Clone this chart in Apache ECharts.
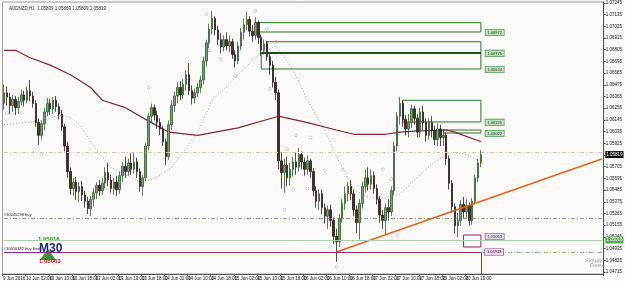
<!DOCTYPE html>
<html><head><meta charset="utf-8">
<script src="https://cdn.jsdelivr.net/npm/echarts@6/dist/echarts.min.js"></script>
<style>html,body{margin:0;padding:0;background:#fcfaf9;}#c{width:625px;height:281px;}</style>
</head><body><div id="c"></div>
<script>
// ---- data ----
const symbolTitle = "AUDNZD,H1  1.05839 1.05869 1.05809 1.05819";
const timeLabels = ["9 Jun 2016","10 Jun 02:00","10 Jun 10:00","10 Jun 18:00","13 Jun 02:00","13 Jun 10:00","13 Jun 18:00","14 Jun 02:00","14 Jun 10:00","14 Jun 18:00","15 Jun 02:00","15 Jun 10:00","15 Jun 18:00","16 Jun 02:00","16 Jun 10:00","16 Jun 18:00","17 Jun 02:00","17 Jun 10:00","17 Jun 18:00","20 Jun 02:00","20 Jun 10:00"];
const barsPerLabel = 8;
const totalSlots = 208;
const priceTicks = [1.07245,1.07135,1.07025,1.06915,1.06805,1.06695,1.06585,1.06475,1.06365,1.06255,1.06145,1.06035,1.05925,1.05815,1.05705,1.05595,1.05485,1.05375,1.05265,1.05155,1.05045,1.04935,1.04825,1.04715];
const priceMin = 1.04696, priceMax = 1.07254;
// [open, close, low, high]
const ohlc = [
[1.0630,1.0640,1.0624,1.0648],[1.0640,1.0636,1.0628,1.0646],[1.0636,1.0628,1.0620,1.0640],[1.0628,1.0634,1.0622,1.0638],
[1.0634,1.0626,1.0619,1.0637],[1.0626,1.0632,1.0620,1.0636],[1.0632,1.0638,1.0628,1.0643],[1.0638,1.0633,1.0627,1.0642],
[1.0633,1.0642,1.0630,1.0646],[1.0642,1.0637,1.0632,1.0652],[1.0637,1.0630,1.0626,1.0641],[1.0630,1.0612,1.0608,1.0633],
[1.0612,1.0600,1.0591,1.0616],[1.0600,1.0611,1.0596,1.0614],[1.0611,1.0622,1.0605,1.0626],[1.0622,1.0630,1.0618,1.0635],
[1.0630,1.0625,1.0619,1.0634],[1.0625,1.0633,1.0620,1.0636],[1.0633,1.0627,1.0622,1.0637],[1.0627,1.0620,1.0615,1.0630],
[1.0620,1.0608,1.0604,1.0624],[1.0608,1.0590,1.0585,1.0611],[1.0590,1.0566,1.0560,1.0594],[1.0566,1.0550,1.0544,1.0570],
[1.0550,1.0556,1.0543,1.0560],[1.0556,1.0547,1.0539,1.0561],[1.0547,1.0552,1.0537,1.0556],[1.0552,1.0544,1.0538,1.0557],
[1.0544,1.0538,1.0532,1.0548],[1.0538,1.0531,1.0526,1.0542],[1.0531,1.0540,1.0524,1.0543],[1.0540,1.0546,1.0533,1.0550],
[1.0546,1.0553,1.0540,1.0556],[1.0553,1.0548,1.0543,1.0558],[1.0548,1.0555,1.0544,1.0560],[1.0555,1.0565,1.0550,1.0570],
[1.0565,1.0558,1.0552,1.0574],[1.0558,1.0550,1.0546,1.0563],[1.0550,1.0556,1.0544,1.0560],[1.0556,1.0549,1.0543,1.0562],
[1.0549,1.0562,1.0545,1.0566],[1.0562,1.0571,1.0556,1.0575],[1.0571,1.0566,1.0560,1.0580],[1.0566,1.0574,1.0562,1.0578],
[1.0574,1.0568,1.0563,1.0583],[1.0568,1.0575,1.0564,1.0584],[1.0575,1.0566,1.0560,1.0579],[1.0566,1.0552,1.0547,1.0569],
[1.0552,1.0560,1.0543,1.0563],[1.0560,1.0590,1.0557,1.0593],[1.0590,1.0618,1.0586,1.0621],[1.0618,1.0626,1.0612,1.0630],
[1.0626,1.0619,1.0614,1.0629],[1.0619,1.0612,1.0606,1.0623],[1.0612,1.0606,1.0600,1.0616],[1.0606,1.0594,1.0590,1.0609],
[1.0594,1.0580,1.0572,1.0597],[1.0580,1.0610,1.0577,1.0614],[1.0610,1.0628,1.0605,1.0633],[1.0628,1.0637,1.0622,1.0641],
[1.0637,1.0645,1.0630,1.0650],[1.0645,1.0638,1.0633,1.0651],[1.0638,1.0648,1.0634,1.0653],[1.0648,1.0657,1.0642,1.0661],
[1.0657,1.0642,1.0638,1.0668],[1.0642,1.0635,1.0629,1.0647],[1.0635,1.0640,1.0630,1.0644],[1.0640,1.0645,1.0636,1.0649],
[1.0645,1.0652,1.0640,1.0656],[1.0652,1.0670,1.0648,1.0674],[1.0670,1.0687,1.0665,1.0690],[1.0687,1.0700,1.0682,1.0705],
[1.0700,1.0710,1.0695,1.0717],[1.0710,1.0699,1.0694,1.0712],[1.0699,1.0690,1.0685,1.0703],[1.0690,1.0683,1.0677,1.0696],
[1.0683,1.0690,1.0679,1.0694],[1.0690,1.0684,1.0680,1.0697],[1.0684,1.0688,1.0678,1.0694],[1.0688,1.0676,1.0672,1.0691],
[1.0676,1.0670,1.0664,1.0680],[1.0670,1.0684,1.0667,1.0688],[1.0684,1.0697,1.0680,1.0701],[1.0697,1.0704,1.0690,1.0710],
[1.0704,1.0709,1.0699,1.0716],[1.0709,1.0698,1.0693,1.0712],[1.0698,1.0694,1.0688,1.0704],[1.0694,1.0706,1.0690,1.0711],
[1.0706,1.0692,1.0686,1.0708],[1.0692,1.0680,1.0675,1.0695],[1.0680,1.0686,1.0676,1.0690],[1.0686,1.0674,1.0670,1.0689],
[1.0674,1.0666,1.0657,1.0678],[1.0666,1.0650,1.0645,1.0670],[1.0650,1.0640,1.0633,1.0655],[1.0640,1.0576,1.0568,1.0643],
[1.0576,1.0565,1.0550,1.0584],[1.0565,1.0572,1.0546,1.0578],[1.0572,1.0560,1.0552,1.0580],[1.0560,1.0568,1.0553,1.0574],
[1.0568,1.0575,1.0561,1.0580],[1.0575,1.0570,1.0563,1.0584],[1.0570,1.0582,1.0566,1.0588],[1.0582,1.0575,1.0568,1.0585],
[1.0575,1.0568,1.0562,1.0579],[1.0568,1.0576,1.0563,1.0581],[1.0576,1.0566,1.0560,1.0578],[1.0566,1.0548,1.0543,1.0569],
[1.0548,1.0538,1.0532,1.0552],[1.0538,1.0545,1.0530,1.0549],[1.0545,1.0532,1.0526,1.0549],[1.0532,1.0524,1.0517,1.0536],
[1.0524,1.0530,1.0512,1.0534],[1.0530,1.0520,1.0514,1.0535],[1.0520,1.0505,1.0498,1.0523],[1.0505,1.0500,1.0481,1.0512],
[1.0500,1.0522,1.0495,1.0526],[1.0522,1.0536,1.0518,1.0540],[1.0536,1.0545,1.0530,1.0552],[1.0545,1.0552,1.0538,1.0556],
[1.0552,1.0545,1.0539,1.0558],[1.0545,1.0530,1.0524,1.0549],[1.0530,1.0518,1.0508,1.0534],[1.0518,1.0536,1.0502,1.0540],
[1.0536,1.0552,1.0531,1.0556],[1.0552,1.0560,1.0546,1.0568],[1.0560,1.0554,1.0548,1.0570],[1.0554,1.0562,1.0549,1.0568],
[1.0562,1.0550,1.0545,1.0566],[1.0550,1.0540,1.0535,1.0554],[1.0540,1.0525,1.0518,1.0543],[1.0525,1.0520,1.0512,1.0530],
[1.0520,1.0532,1.0507,1.0536],[1.0532,1.0528,1.0520,1.0540],[1.0528,1.0548,1.0524,1.0552],[1.0548,1.0590,1.0544,1.0594],
[1.0590,1.0618,1.0585,1.0622],[1.0618,1.0630,1.0610,1.0636],[1.0630,1.0615,1.0608,1.0633],[1.0615,1.0606,1.0600,1.0619],
[1.0606,1.0612,1.0598,1.0620],[1.0612,1.0625,1.0607,1.0629],[1.0625,1.0616,1.0610,1.0628],[1.0616,1.0603,1.0598,1.0620],
[1.0603,1.0622,1.0598,1.0626],[1.0622,1.0612,1.0605,1.0628],[1.0612,1.0600,1.0594,1.0616],[1.0600,1.0612,1.0596,1.0616],
[1.0612,1.0605,1.0598,1.0618],[1.0605,1.0596,1.0591,1.0609],[1.0596,1.0606,1.0590,1.0611],[1.0606,1.0598,1.0590,1.0610],
[1.0598,1.0600,1.0590,1.0606],[1.0600,1.0578,1.0572,1.0603],[1.0578,1.0555,1.0549,1.0581],[1.0555,1.0533,1.0527,1.0558],
[1.0533,1.0515,1.0508,1.0536],[1.0515,1.0520,1.0504,1.0527],[1.0520,1.0535,1.0515,1.0539],[1.0535,1.0528,1.0522,1.0542],
[1.0528,1.0534,1.0522,1.0540],[1.0534,1.0520,1.0515,1.0537],[1.0520,1.0538,1.0516,1.0541],[1.0538,1.0560,1.0535,1.0563],
[1.0560,1.0574,1.0556,1.0578],[1.0574,1.0582,1.0570,1.0586]
];
// moving average (maroon) anchor points [barIndex, price]
const maLine = [[0,1.0680],[4,1.0680],[9,1.0673],[16,1.0666],[23,1.0657],[30,1.0645],[34,1.0633],[42,1.0626],[49,1.0615],[57,1.0603],[67,1.0600],[81,1.0607],[95,1.0618],[105,1.0612],[115,1.0605],[121,1.0601],[132,1.0601],[137,1.0603],[142,1.0604],[153,1.0605],[156,1.0603],[165,1.0594]];
// dotted line anchor points
const dotLine = [[0,1.0610],[14,1.0614],[19,1.0619],[23,1.0617],[26,1.0610],[32,1.0586],[37,1.0570],[48,1.0555],[53,1.0561],[58,1.0570],[67,1.0602],[72,1.0633],[81,1.0657],[88,1.0676],[94,1.0684],[100,1.0662],[105,1.0633],[111,1.0605],[114,1.0586],[121,1.0549],[126,1.0542],[132,1.0541],[137,1.0545],[142,1.0558],[149,1.0575],[155,1.0584],[160,1.0582],[165,1.0575]];
const fractals = [[70,1.0714],[87,1.0717],[91,1.0700],[94,1.0688],[71,1.0680],[75,1.0672],[80,1.0656],[92,1.0644],[1,1.0621],[6,1.0621],[13,1.0582],[50,1.0645],[101,1.0600],[106,1.0598],[98,1.0587],[111,1.0567],[117,1.0568],[131,1.0568],[134,1.0559],[100,1.0549],[105,1.0550],[97,1.0530],[113,1.0495],[115,1.0476],[130,1.0528],[136,1.0507],[152,1.0612]];
const trendLine = [[115,1.04903],[207,1.05780]];
// zones: [startBar, endBar, top, bottom, label]
const greenZones = [[87,165,1.0706,1.06972,"1.06972"],[91,165,1.0688,1.06775,"1.06775"],[89,165,1.06775,1.06624,"1.06624"],[138,165,1.0633,1.06126,"1.06126"],[152,165,1.0605,1.06022,"1.06022"]];
const purpleZone = [159,165,1.05063,1.04950,"1.05063"];
const buyLimitLevel = 1.04903, buyLevel = 1.05223, greenLevel = 1.05016, bidLevel = 1.05843, lastPrice = 1.05819;
const orderBuy = "#30045298 buy", orderLimit = "#30050382 buy limit";
const lastBar = 165;

// ---- chart ----
const cats = Array.from({length: totalSlots}, (_, i) => String(i));
const labelAt = {};
timeLabels.forEach((t, k) => labelAt[k * barsPerLabel] = t);
const chart = echarts.init(document.getElementById('c'), null, {renderer: 'canvas'});
const F = 'Liberation Sans';
const zoneAreas = greenZones.map(z => [
  {coord: [z[0], z[2]], label: {show: true, formatter: z[4], position: ['100%', '100%'], offset: [4, -3], fontSize: 4, color: '#1b3d1b', backgroundColor: '#bfe0bf', borderColor: '#3d7d3d', borderWidth: 0.6, padding: [1, 2], fontFamily: F}},
  {coord: [z[1], z[3]]}
]);
zoneAreas.push([
  {coord: [purpleZone[0], purpleZone[2]], itemStyle: {color: 'rgba(0,0,0,0)', borderColor: '#7a2a6a', borderWidth: 1}, label: {show: true, formatter: purpleZone[4], position: ['100%', 0], offset: [4, -1], fontSize: 4, color: '#5a1a4a', backgroundColor: '#ecd6ec', borderColor: '#8a3a8a', borderWidth: 0.6, padding: [1, 2], fontFamily: F}},
  {coord: [purpleZone[1], purpleZone[3]]}
]);
const hLine = (v, lineStyle, label) => [{coord: [0, v], lineStyle: lineStyle, label: label}, {coord: [totalSlots - 1, v]}];
const option = {
  animation: false,
  backgroundColor: '#fcfaf9',
  title: {text: symbolTitle, left: 4, top: 1, textStyle: {fontSize: 4.5, fontWeight: 'normal', color: '#222', fontFamily: F}},
  grid: {left: 2, right: 15, top: 2, bottom: 7, show: true, borderColor: '#9a9a9a', borderWidth: 1},
  xAxis: {type: 'category', data: cats, boundaryGap: true,
    axisLine: {lineStyle: {color: '#555', width: 1}},
    axisTick: {show: true, length: 2, interval: (i) => labelAt[i] !== undefined, lineStyle: {color: '#555'}},
    axisLabel: {interval: 0, formatter: (v, i) => labelAt[i] || '', fontSize: 4.5, color: '#111', align: 'left', margin: 2, fontFamily: F, padding: [0, 0, 0, -1]},
    splitLine: {show: false}},
  yAxis: {type: 'value', position: 'right', min: priceMin, max: priceMax,
    axisLine: {show: true, lineStyle: {color: '#555', width: 1}},
    axisTick: {show: true, length: 2, customValues: priceTicks, lineStyle: {color: '#555'}},
    axisLabel: {customValues: priceTicks, formatter: v => v.toFixed(5), fontSize: 4.5, color: '#111', margin: 2, fontFamily: F},
    splitLine: {show: false}},
  series: [
    {type: 'line', data: maLine, symbol: 'none', lineStyle: {color: '#7a2a2e', width: 1.2}, z: 2, silent: true,
      markLine: {silent: true, symbol: 'none', animation: false, data: [
        hLine(bidLevel, {color: '#d9c2a4', type: [4, 2, 1, 2], width: 1}, {show: false}),
        hLine(buyLevel, {color: '#6f7f5f', type: [4, 2, 1, 2], width: 0.8}, {show: true, position: 'insideStartTop', formatter: orderBuy, fontSize: 4, color: '#222', distance: [0, 1], fontFamily: F}),
        hLine(greenLevel, {color: '#a7cfa7', type: 'solid', width: 1}, {show: true, position: 'end', formatter: greenLevel.toFixed(5), fontSize: 4.5, color: '#fff', backgroundColor: '#58a858', padding: [1, 1], distance: 3, fontFamily: F}),
        [{coord: [0, buyLimitLevel], lineStyle: {color: '#8a2f7a', width: 1, type: 'solid'}, label: {show: true, position: 'insideStartTop', formatter: orderLimit, fontSize: 4, color: '#222', distance: [0, 1], fontFamily: F}}, {coord: [lastBar, buyLimitLevel]}],
        [{coord: [lastBar, buyLimitLevel], lineStyle: {color: '#8a2f7a', width: 1, type: 'solid'}, label: {show: false}}, {coord: [lastBar, priceMin]}],
        [{coord: [lastBar, buyLimitLevel], lineStyle: {color: '#6f9f5f', width: 0.8, type: [4, 2, 1, 2]}, label: {show: false}}, {coord: [totalSlots - 1, buyLimitLevel]}],
        [{coord: [89, 1.06775], lineStyle: {color: '#1f4f1f', width: 2, type: 'solid'}, label: {show: false}}, {coord: [lastBar, 1.06775]}]
      ]},
      markPoint: {silent: true, symbol: 'rect', symbolSize: 0, data: [
        {coord: [lastBar, buyLimitLevel], label: {show: true, position: 'right', distance: 4, formatter: buyLimitLevel.toFixed(5), fontSize: 4, color: '#5a1a4a', backgroundColor: '#ecd6ec', borderColor: '#8a3a8a', borderWidth: 0.6, padding: [1, 2], fontFamily: F}},
        {coord: [totalSlots - 1, lastPrice], label: {show: true, position: 'right', distance: 3, formatter: lastPrice.toFixed(5), fontSize: 4.5, color: '#fff', backgroundColor: '#111', padding: [1, 1], fontFamily: F}}
      ]}
    },
    {type: 'line', data: dotLine, symbol: 'none', lineStyle: {color: '#a09898', width: 1, type: [1, 2]}, z: 2, silent: true},
    {type: 'candlestick', data: ohlc, barWidth: 2, z: 3,
      itemStyle: {color: '#7d9f7d', color0: '#4a2e2e', borderColor: '#2f5a2f', borderColor0: '#2a1818', borderWidth: 0.8},
      markArea: {silent: true, itemStyle: {color: 'rgba(0,0,0,0)', borderColor: '#2f6e2f', borderWidth: 1}, data: zoneAreas}
    },
    {type: 'line', data: trendLine, symbol: 'none', lineStyle: {color: '#e0641e', width: 1.5}, z: 4, silent: true},
    {type: 'scatter', data: fractals, symbol: 'circle', symbolSize: 3, itemStyle: {color: 'rgba(0,0,0,0)', borderColor: '#b8b0b0', borderWidth: 0.7}, z: 1, silent: true}
  ],
  graphic: [
    {type: 'group', left: 38, top: 236, children: [
      {type: 'polygon', shape: {points: [[2, 24], [10, 13], [18, 24]]}, style: {fill: '#3f8f3f'}},
      {type: 'text', left: 0, top: 0, style: {text: greenLevel.toFixed(5), fontSize: 6, fontWeight: 'bold', fill: '#2f7f2f', fontFamily: F}},
      {type: 'text', left: 1, top: 7, style: {text: 'M30', fontSize: 12, fontWeight: 'bold', fill: '#1a2a6a', fontFamily: F}},
      {type: 'text', left: 1, top: 22, style: {text: purpleZone[2].toFixed(5), fontSize: 6, fontWeight: 'bold', fill: '#b02020', fontFamily: F}}
    ]},
    {type: 'text', left: 585, top: 258, style: {text: 'Simply\n   Forex', fontSize: 5, fontStyle: 'italic', fill: '#888', fontFamily: 'DejaVu Serif'}}
  ]
};
chart.setOption(option);
</script></body></html>
